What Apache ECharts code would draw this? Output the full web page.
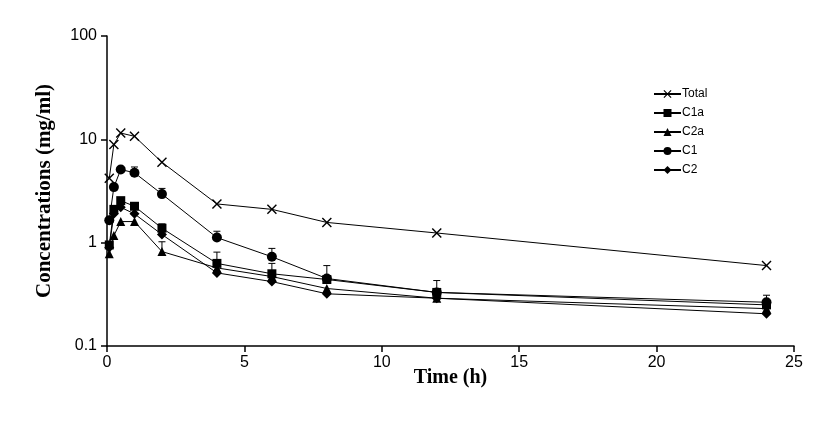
<!DOCTYPE html>
<html>
<head>
<meta charset="utf-8">
<script src="https://cdn.jsdelivr.net/npm/echarts@6/dist/echarts.min.js"></script>
<style>
  html, body { margin: 0; padding: 0; background: #fff; }
  #chart { width: 830px; height: 426px; }
</style>
</head>
<body>
<div id="chart"></div>
<script>
// sampling times (h)
var times = [0.083, 0.25, 0.5, 1, 2, 4, 6, 8, 12, 24];

// concentrations
var total = [4.2, 8.9, 11.5, 10.7, 6.0, 2.37, 2.1, 1.57, 1.24, 0.6];
var c1a = [0.95, 2.1, 2.55, 2.25, 1.38, 0.63, 0.5, 0.44, 0.33, 0.25];
var c2a = [0.78, 1.17, 1.6, 1.6, 0.82, 0.57, 0.47, 0.36, 0.29, 0.23];
var c1 = [1.65, 3.45, 5.1, 4.75, 2.95, 1.12, 0.73, 0.45, 0.33, 0.265];
var c2 = [0.9, 1.9, 2.2, 1.9, 1.2, 0.51, 0.42, 0.32, 0.29, 0.205];

// upper error bars: [time, mean, upper]
var errC1 = [[1, 4.75, 5.4], [2, 2.95, 3.35], [4, 1.12, 1.29], [6, 0.73, 0.88], [8, 0.45, 0.6], [12, 0.33, 0.43], [24, 0.265, 0.31]];
var errC1a = [[2, 1.38, 1.52], [4, 0.63, 0.81], [6, 0.5, 0.63]];
var errC2a = [[2, 0.82, 1.02]];

function pairs(vals) {
  return times.map(function (t, i) { return [t, vals[i]]; });
}

var crossPath = 'path://M0,1L1,0L5,4L9,0L10,1L6,5L10,9L9,10L5,6L1,10L0,9L4,5Z';

function line(name, vals, symbol, size) {
  return {
    name: name,
    type: 'line',
    data: pairs(vals),
    symbol: symbol,
    symbolSize: size,
    showAllSymbol: true,
    lineStyle: { color: '#000', width: 1 },
    itemStyle: { color: '#000' },
    z: 3
  };
}

function errSeries(data) {
  return {
    type: 'custom',
    data: data,
    silent: true,
    z: 2,
    renderItem: function (params, api) {
      var p = api.coord([api.value(0), api.value(1)]);
      var top = api.coord([api.value(0), api.value(2)]);
      var s = { stroke: '#000', lineWidth: 1 };
      return {
        type: 'group',
        children: [
          { type: 'line', shape: { x1: p[0], y1: p[1], x2: top[0], y2: top[1] }, style: s },
          { type: 'line', shape: { x1: top[0] - 3.5, y1: top[1], x2: top[0] + 3.5, y2: top[1] }, style: s }
        ]
      };
    }
  };
}

var chart = echarts.init(document.getElementById('chart'));
chart.setOption({
  animation: false,
  backgroundColor: '#fff',
  grid: { left: 107, right: 36, top: 36, bottom: 80 },
  legend: {
    orient: 'vertical',
    left: 648,
    top: 83,
    itemWidth: 27,
    itemHeight: 10,
    itemGap: 7,
    data: ['Total', 'C1a', 'C2a', 'C1', 'C2'],
    textStyle: { fontFamily: 'Liberation Sans', fontSize: 12, color: '#000', padding: [0, 0, 0, -4] }
  },
  xAxis: {
    type: 'value',
    min: 0,
    max: 25,
    interval: 5,
    name: 'Time (h)',
    nameLocation: 'middle',
    nameGap: 22,
    nameMoveOverlap: false,
    nameTextStyle: { fontFamily: 'Liberation Serif', fontWeight: 'bold', fontSize: 20, color: '#000' },
    axisLine: { lineStyle: { color: '#000', width: 1.5 } },
    axisTick: { inside: false, length: 6, lineStyle: { color: '#000', width: 1.5 } },
    axisLabel: { fontFamily: 'Liberation Sans', fontSize: 16, color: '#000', margin: 9 },
    splitLine: { show: false }
  },
  yAxis: {
    type: 'log',
    logBase: 10,
    min: 0.1,
    max: 100,
    name: 'Concentrations (mg/ml)',
    nameLocation: 'middle',
    nameGap: 52,
    nameMoveOverlap: false,
    nameTextStyle: { fontFamily: 'Liberation Serif', fontWeight: 'bold', fontSize: 21, color: '#000' },
    axisLine: { show: true, lineStyle: { color: '#000', width: 1.5 } },
    axisTick: { inside: false, length: 6, lineStyle: { color: '#000', width: 1.5 } },
    axisLabel: { fontFamily: 'Liberation Sans', fontSize: 16, color: '#000', margin: 10 },
    splitLine: { show: false }
  },
  series: [
    errSeries(errC1),
    errSeries(errC1a),
    errSeries(errC2a),
    line('Total', total, crossPath, 10),
    line('C1a', c1a, 'rect', 9),
    line('C2a', c2a, 'triangle', 9),
    line('C1', c1, 'circle', 10),
    line('C2', c2, 'diamond', 10)
  ]
});
</script>
</body>
</html>
